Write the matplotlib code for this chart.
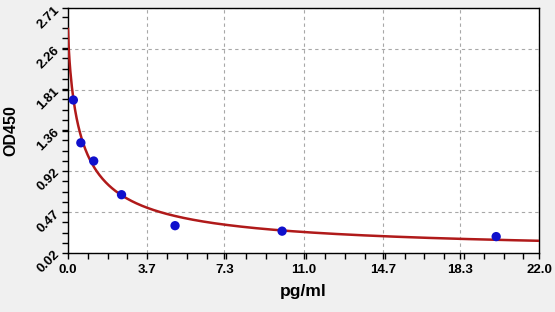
import numpy as np
import matplotlib
matplotlib.use("Agg")
import matplotlib.pyplot as plt
from matplotlib.ticker import AutoMinorLocator

# Data
conc = [0.25, 0.6, 1.2, 2.5, 5.0, 10.0, 20.0]
od = [1.70, 1.23, 1.03, 0.66, 0.32, 0.26, 0.20]
x_ticks = [0.0, 3.7, 7.3, 11.0, 14.7, 18.3, 22.0]
y_ticks = [0.02, 0.47, 0.92, 1.36, 1.81, 2.26, 2.71]
# 4PL fit parameters (top, slope, mid, bottom)
fit_A, fit_B, fit_C, fit_D = 2.48, 0.80, 0.68, 0.01

plt.rcParams['font.family'] = ['Liberation Sans', 'DejaVu Sans']

fig = plt.figure(figsize=(5.55, 3.12), dpi=100, facecolor='#F0F0F0')
ax = fig.add_axes([68/555, 1-253/312, (539-68)/555, (253-8)/312])
ax.set_facecolor('white')

xs = np.linspace(0, 22, 600)
ys = fit_D + (fit_A - fit_D) / (1 + (xs / fit_C) ** fit_B)
ax.plot(xs, ys, color='#B01A1A', lw=1.8, zorder=3)
ax.scatter(conc, od, s=45, color='#1010CC', zorder=4, edgecolors='none')

ax.set_xlim(0, 22)
ax.set_ylim(0.02, 2.71)
ax.set_xticks(x_ticks)
ax.set_yticks(y_ticks)
ax.set_xticklabels([f"{v:.1f}" for v in x_ticks], fontsize=9.5, fontweight='bold')
ax.set_yticklabels([f"{v:.2f}" for v in y_ticks], fontsize=9.5, fontweight='bold',
                   rotation=45, ha='right', va='center', rotation_mode='anchor')
ax.xaxis.set_minor_locator(AutoMinorLocator(4))
ax.yaxis.set_minor_locator(AutoMinorLocator(4))
ax.tick_params(which='both', direction='out', length=4, width=1, color='black')
ax.tick_params(axis='x', which='major', pad=4)
ax.grid(True, which='major', ls=(0, (3, 3)), color='#A8A8A8', lw=0.8)
for s in ax.spines.values():
    s.set_linewidth(1.0)

ax.set_xlabel('pg/ml', fontsize=12.5, fontweight='bold', labelpad=6)
ax.set_ylabel('OD450', fontsize=11.5, fontweight='bold', labelpad=12)

fig.savefig('out.png', dpi=100, facecolor=fig.get_facecolor())
